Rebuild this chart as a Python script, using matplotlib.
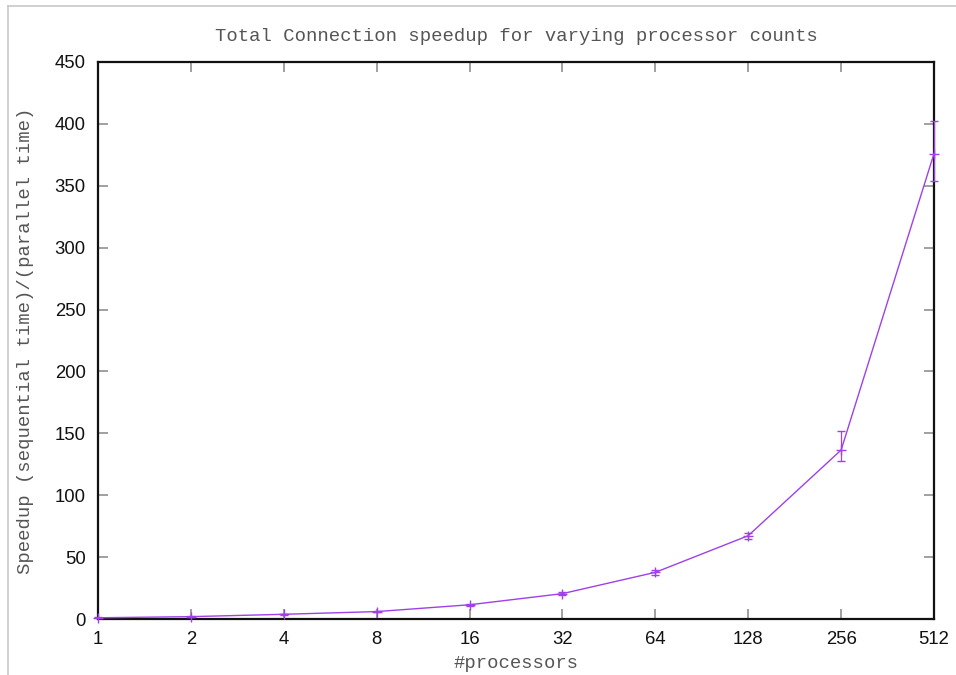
import matplotlib.pyplot as plt
from matplotlib.lines import Line2D

# values
procs = [1, 2, 4, 8, 16, 32, 64, 128, 256, 512]
speedup = [1.0, 1.9, 3.8, 6.0, 11.5, 20.5, 37.7, 67.3, 136.5, 376.0]
err_low = [0.3, 0.3, 0.4, 0.5, 0.8, 1.2, 2.0, 2.5, 8.5, 22.0]
err_high = [0.3, 0.3, 0.4, 0.5, 0.8, 1.2, 2.0, 2.5, 15.0, 26.0]
tick_labels = [str(p) for p in procs]
y_ticks = [0, 50, 100, 150, 200, 250, 300, 350, 400, 450]

mono = 'Liberation Mono'
sans = 'Liberation Sans'
line_col = '#a040e8'

fig = plt.figure(figsize=(9.56, 6.75), dpi=100)
ax = fig.add_axes([98 / 956, 56 / 675, 836 / 956, 557 / 675])

ax.errorbar(procs, speedup, yerr=[err_low, err_high], color=line_col, lw=1.0,
            marker='+', ms=7, mew=1.0, ecolor=line_col, elinewidth=0.9,
            capsize=3, capthick=0.9, zorder=3, clip_on=False)

ax.set_xscale('log', base=2)
ax.set_xlim(1, 512)
ax.set_ylim(0, 450)
ax.set_xticks(procs)
ax.set_xticklabels(tick_labels)
ax.minorticks_off()
ax.set_yticks(y_ticks)

for lab in ax.get_xticklabels() + ax.get_yticklabels():
    lab.set_fontfamily(sans)
    lab.set_fontsize(13.3)
    lab.set_color('#111111')

ax.tick_params(direction='in', length=7, width=1.2, color='#909090',
               top=True, right=True, pad=9)
for sp in ax.spines.values():
    sp.set_linewidth(1.6)
    sp.set_color('#111111')

ax.set_title('Total Connection speedup for varying processor counts',
             fontfamily=mono, fontsize=13.6, color='#555555', pad=15)
ax.set_xlabel('#processors', fontfamily=mono, fontsize=13.6, color='#555555', labelpad=5)
ax.set_ylabel('Speedup (sequential time)/(parallel time)', fontfamily=mono,
              fontsize=13.6, color='#555555', labelpad=15)

# thin grey frame of the window
fig.add_artist(Line2D([8 / 956, 1.0], [1 - 6 / 675, 1 - 6 / 675],
                      transform=fig.transFigure, color='#c8c8c8', lw=1.2))
fig.add_artist(Line2D([8 / 956, 8 / 956], [0.0, 1 - 6 / 675],
                      transform=fig.transFigure, color='#c8c8c8', lw=1.2))

fig.savefig('out.png', dpi=100)
